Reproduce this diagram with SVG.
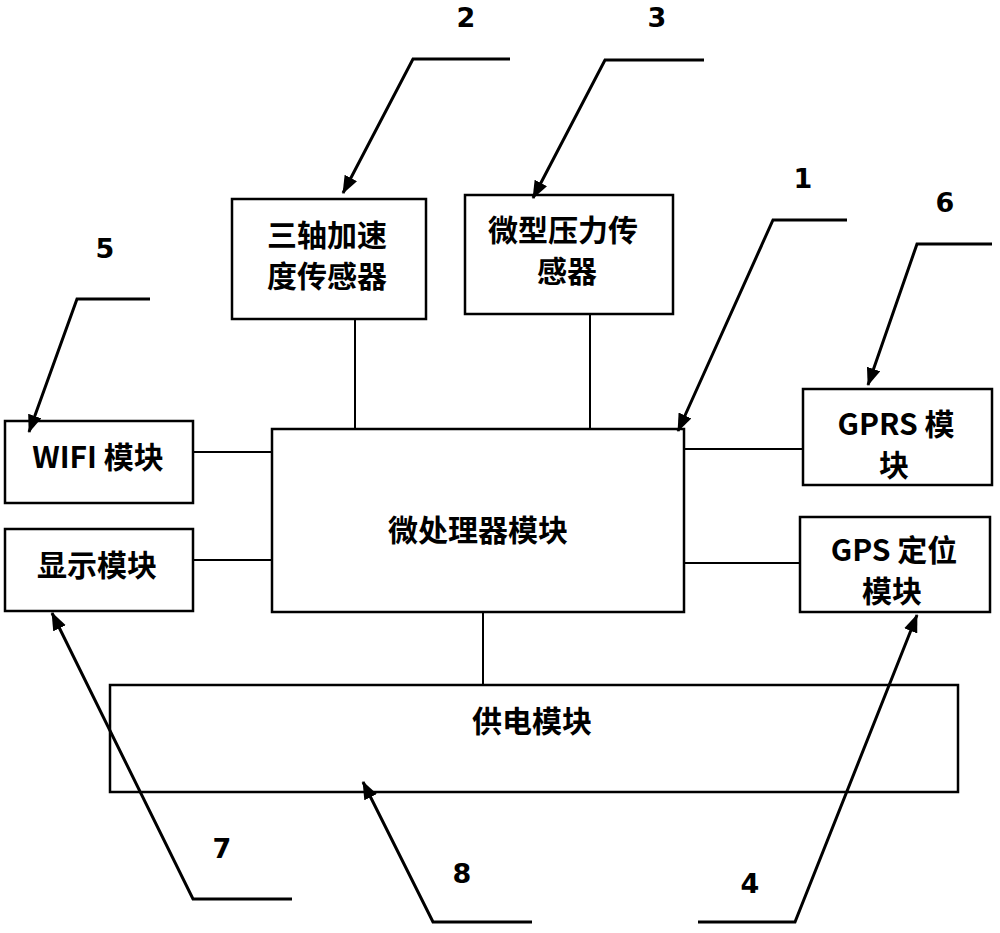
<svg xmlns="http://www.w3.org/2000/svg" width="1000" height="933" viewBox="0 0 1000 933">
<style>
.box{fill:#fff;stroke:#000;stroke-width:2.5}
.t{font-family:"Noto Sans CJK SC","Liberation Sans",sans-serif;font-size:30px;font-weight:bold;fill:#000;text-anchor:middle}
.n{font-family:"DejaVu Sans","Liberation Sans",sans-serif;font-size:27px;font-weight:bold;fill:#000;text-anchor:middle}
.c{stroke:#000;stroke-width:2;fill:none}
.l{stroke:#000;stroke-width:3;fill:none}
</style>
<defs>
<marker id="ah" markerUnits="userSpaceOnUse" markerWidth="20" markerHeight="16" refX="17" refY="7" orient="auto">
<path d="M0,0 L18,7 L0,14 Z" fill="#000"/>
</marker>
</defs>
<rect width="1000" height="933" fill="#fff"/>
<g id="connectors">
<line class="c" x1="355" y1="319" x2="355" y2="429"/>
<line class="c" x1="590" y1="314" x2="590" y2="429"/>
<line class="c" x1="193" y1="452" x2="272" y2="452"/>
<line class="c" x1="193" y1="560" x2="272" y2="560"/>
<line class="c" x1="684" y1="449" x2="803" y2="449"/>
<line class="c" x1="684" y1="563" x2="800" y2="563"/>
<line class="c" x1="483" y1="612" x2="483" y2="685"/>
</g>
<g id="n-accel"><rect class="box" x="232" y="199" width="194" height="120"/>
<text class="t" x="327" y="246">三轴加速</text><text class="t" x="327" y="287">度传感器</text></g>
<g id="n-pressure"><rect class="box" x="465" y="195" width="208" height="119"/>
<text class="t" x="563" y="241">微型压力传</text><text class="t" x="567" y="282">感器</text></g>
<g id="n-wifi"><rect class="box" x="5" y="421" width="188" height="82"/>
<text class="t" x="98" y="468">WIFI 模块</text></g>
<g id="n-display"><rect class="box" x="5" y="529" width="188" height="82"/>
<text class="t" x="97" y="576">显示模块</text></g>
<g id="n-mcu"><rect class="box" x="272" y="429" width="412" height="183"/>
<text class="t" x="478" y="541">微处理器模块</text></g>
<g id="n-gprs"><rect class="box" x="803" y="389" width="189" height="96"/>
<text class="t" x="896" y="435">GPRS 模</text><text class="t" x="894" y="476">块</text></g>
<g id="n-gps"><rect class="box" x="800" y="517" width="190" height="95"/>
<text class="t" x="894" y="561">GPS 定位</text><text class="t" x="892" y="602">模块</text></g>
<g id="n-power"><rect class="box" x="110" y="685" width="848" height="107"/>
<text class="t" x="532" y="732">供电模块</text></g>
<g id="leaders">
<polyline class="l" points="510,59 413,59 343,193" marker-end="url(#ah)"/>
<polyline class="l" points="704,60 605,60 533,198" marker-end="url(#ah)"/>
<polyline class="l" points="847,220 773,220 678,431" marker-end="url(#ah)"/>
<polyline class="l" points="992,244 917,244 868,385" marker-end="url(#ah)"/>
<polyline class="l" points="150,299 77,299 29,432" marker-end="url(#ah)"/>
<polyline class="l" points="292,899 193,899 52,613" marker-end="url(#ah)"/>
<polyline class="l" points="532,922 433,922 363,782" marker-end="url(#ah)"/>
<polyline class="l" points="698,922 795,922 917,615" marker-end="url(#ah)"/>
</g>
<g id="labels">
<text class="n" x="466" y="27">2</text>
<text class="n" x="657" y="27">3</text>
<text class="n" x="803" y="188">1</text>
<text class="n" x="945" y="212">6</text>
<text class="n" x="105" y="258">5</text>
<text class="n" x="222" y="858">7</text>
<text class="n" x="462" y="883">8</text>
<text class="n" x="750" y="893">4</text>
</g>
</svg>
